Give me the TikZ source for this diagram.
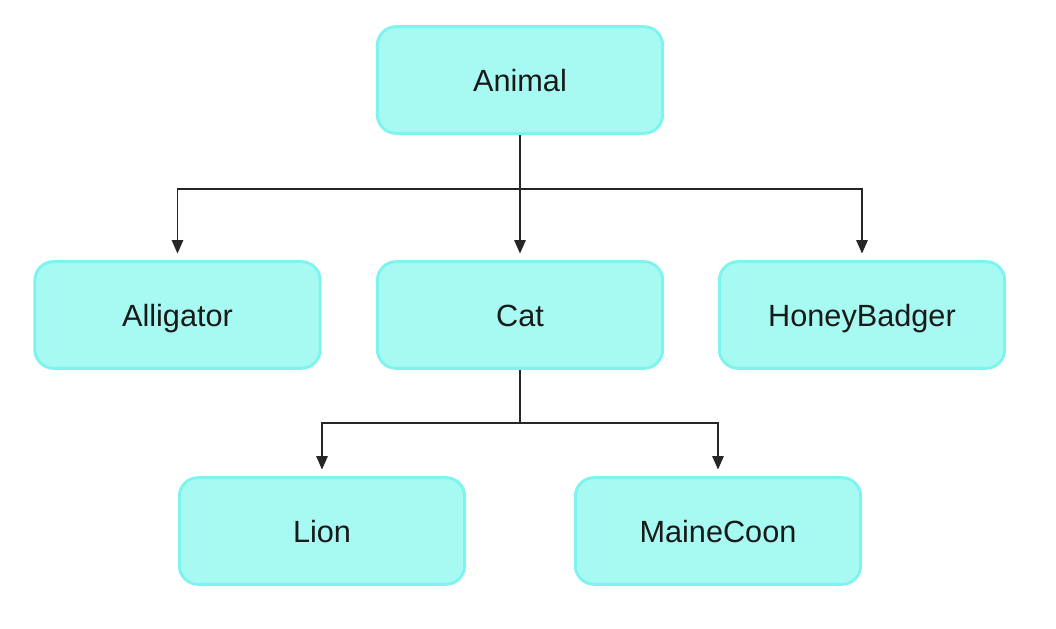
\documentclass[tikz,border=0pt]{standalone}
\usepackage{fontspec}
\setmainfont{Liberation Sans}
\usetikzlibrary{arrows.meta}
\definecolor{boxfill}{HTML}{A6FAF2}
\definecolor{boxline}{HTML}{7FF4EE}
\tikzset{
  classbox/.style={draw=boxline, fill=boxfill, line width=2.2pt, rounded corners=14pt,
    minimum width=214pt, minimum height=80pt, inner sep=0pt, text height=16.5pt, text depth=0pt,
    font=\fontsize{23}{26}\selectfont, text=black!90},
  link/.style={draw=black!85, line width=1.1pt},
  arrowlink/.style={link, -{Triangle[width=8.5pt,length=10pt]}, shorten >=5pt}
}
\begin{document}
\begin{tikzpicture}[x=0.75pt,y=-0.75pt]
\useasboundingbox (0,0) rectangle (1056,628);
\node[classbox] (animal) at (520,80) {Animal};
\node[classbox] (alligator) at (177.5,315) {Alligator};
\node[classbox] (cat) at (520,315) {Cat};
\node[classbox] (badger) at (862,315) {HoneyBadger};
\node[classbox] (lion) at (322,531) {Lion};
\node[classbox] (maine) at (718,531) {MaineCoon};
\coordinate (j1) at (animal.south |- 0,189);
\coordinate (j2) at (cat.south |- 0,423);
\draw[link] (animal.south) -- (j1);
\draw[arrowlink] (j1) -| (alligator.north);
\draw[arrowlink] (j1) -- (cat.north);
\draw[arrowlink] (j1) -| (badger.north);
\draw[link] (cat.south) -- (j2);
\draw[arrowlink] (j2) -| (lion.north);
\draw[arrowlink] (j2) -| (maine.north);
\end{tikzpicture}
\end{document}
